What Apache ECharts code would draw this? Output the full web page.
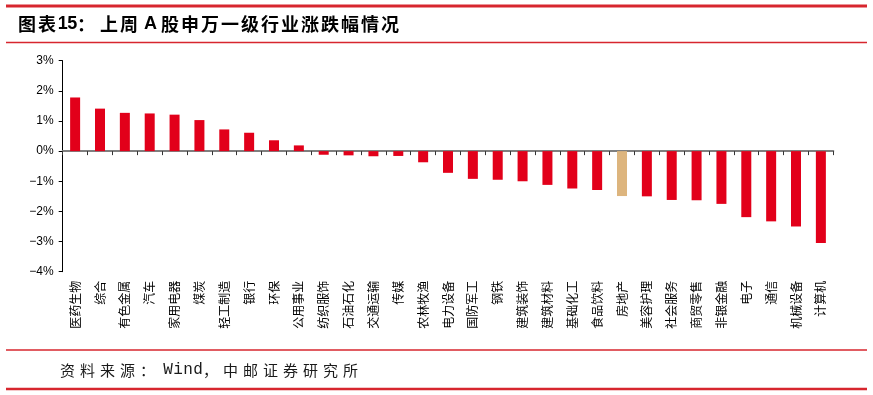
<!DOCTYPE html>
<html>
<head>
<meta charset="utf-8">
<script src="https://cdn.jsdelivr.net/npm/echarts@6/dist/echarts.min.js"></script>
<style>
html,body{margin:0;padding:0;background:#fff;}
#c{width:873px;height:395px;}
</style>
</head>
<body>
<div id="c"></div>
<script>
const categories = ['医药生物','综合','有色金属','汽车','家用电器','煤炭','轻工制造','银行','环保','公用事业','纺织服饰','石油石化','交通运输','传媒','农林牧渔','电力设备','国防军工','钢铁','建筑装饰','建筑材料','基础化工','食品饮料','房地产','美容护理','社会服务','商贸零售','非银金融','电子','通信','机械设备','计算机'];
const values = [1.78,1.41,1.27,1.25,1.21,1.03,0.72,0.61,0.36,0.19,-0.12,-0.14,-0.17,-0.16,-0.37,-0.72,-0.92,-0.95,-1.00,-1.12,-1.24,-1.29,-1.49,-1.50,-1.62,-1.63,-1.75,-2.19,-2.33,-2.50,-3.05];
const highlightCategory = '房地产';
const yTicks = [-4,-3,-2,-1,0,1,2,3];
const titleText = '图表15：上周 A 股申万一级行业涨跌幅情况';
const sourceText = '资料来源：Wind，中邮证券研究所';

const RED = '#E2001A';
const TAN = '#DDB57E';
const LINE_RED = '#D7262E';

function charWidth(ch, full, half) {
  if (ch === ' ') return half * 0.6;
  if (ch === '：') return full + 3;
  if (/[\x00-\x7f]/.test(ch)) return half;
  return full;
}
function layoutText(str, x, y, full, half, style, asciiFont) {
  const out = [];
  let cx = x;
  for (const ch of str) {
    const w = charWidth(ch, full, half);
    if (ch !== ' ') {
      const ascii = /[\x00-\x7f]/.test(ch);
      const s = Object.assign({text: ch, verticalAlign:'middle', align: ascii ? 'center' : 'left'}, style);
      if (ascii && asciiFont) s.font = asciiFont;
      out.push({type:'text', x: ascii ? cx + w / 2 : cx, y: y, style: s});
    }
    cx += w;
  }
  return out;
}

const chart = echarts.init(document.getElementById('c'), null, {renderer:'canvas'});
const graphics = [
  {type:'line', shape:{x1:6,y1:6,x2:867,y2:6}, style:{stroke:LINE_RED,lineWidth:3}},
  {type:'line', shape:{x1:6,y1:42.5,x2:867,y2:42.5}, style:{stroke:LINE_RED,lineWidth:1.5}},
  {type:'line', shape:{x1:6,y1:350,x2:867,y2:350}, style:{stroke:LINE_RED,lineWidth:1.5}},
  {type:'line', shape:{x1:6,y1:389,x2:867,y2:389}, style:{stroke:LINE_RED,lineWidth:2.5}}
]
.concat(layoutText(titleText, 18, 24, 20, 9.5, {font:'bold 18px "Noto Sans CJK SC"', fill:'#000'}, 'bold 18px "Liberation Sans"'))
.concat(layoutText(sourceText, 60, 370, 20, 10, {font:'15px "Noto Sans CJK SC"', fill:'#1a1a1a'}, '16px "Liberation Mono"'));

chart.setOption({
  animation:false,
  backgroundColor:'#fff',
  grid:{left:62.7, right:39.7, top:60.7, bottom:123.3, containLabel:false},
  xAxis:[
    {type:'category', data:categories, position:'bottom',
     axisLine:{show:false, onZero:false}, axisTick:{show:false},
     axisLabel:{interval:0, rotate:90, margin:9, color:'#000', fontSize:12, fontFamily:'"Noto Sans CJK SC"'}},
    {type:'category', data:categories, position:'top',
     axisLine:{show:true, onZero:true, lineStyle:{color:'#7f7f7f', width:2}},
     axisTick:{show:true, inside:true, length:4, interval:0, lineStyle:{color:'#333', width:1}},
     axisLabel:{show:false}}
  ],
  yAxis:{type:'value', min:-4, max:3, interval:1,
    axisLine:{show:true, onZero:false, lineStyle:{color:'#000', width:1}},
    axisTick:{show:true, length:4, lineStyle:{color:'#000'}},
    splitLine:{show:false},
    axisLabel:{margin:9, color:'#000', fontSize:12, fontFamily:'"Liberation Sans", Arial',
      formatter: v => (v < 0 ? '\u2212' + Math.abs(v) : v) + '%'}},
  series:[{
    type:'bar', xAxisIndex:0, barWidth:10,
    data: values.map((v,i) => ({value:v, itemStyle:{color: categories[i] === highlightCategory ? TAN : RED}}))
  }],
  graphic: graphics
});
</script>
</body>
</html>
